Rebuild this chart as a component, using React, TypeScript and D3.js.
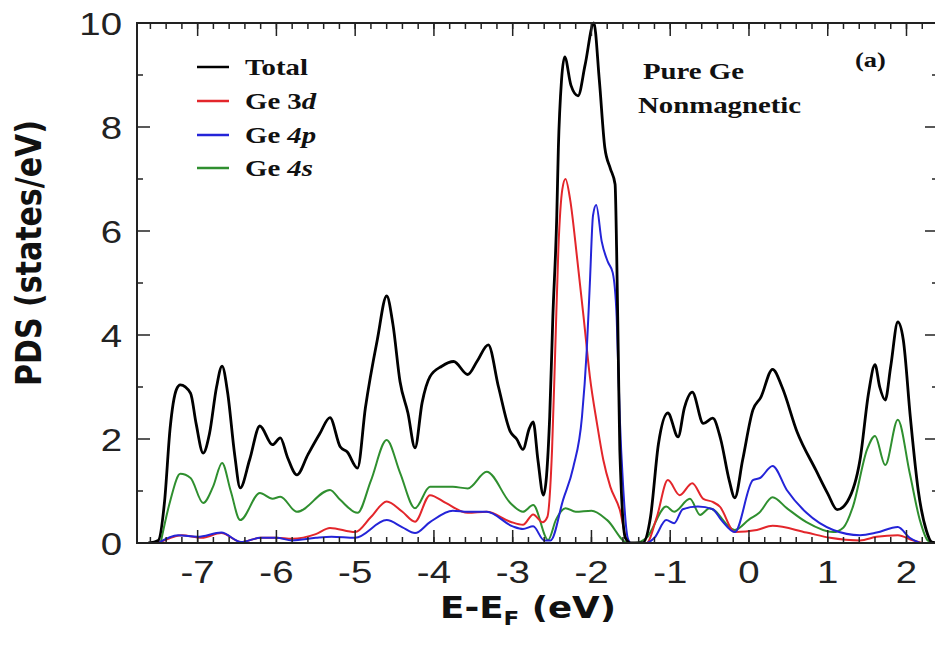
import React from "react";
import * as d3 from "d3";

// ---- Data (energy E-EF in eV, PDOS in states/eV) ----
const totalDos: [number, number][] = [
  [-7.62, 0], [-7.5, 0.05], [-7.42, 0.8], [-7.35, 2.2], [-7.27, 2.95], [-7.22, 3.04], [-7.09, 2.88], [-7.02, 2.3],
  [-6.93, 1.73], [-6.85, 2.1], [-6.76, 3.0], [-6.69, 3.4], [-6.62, 2.9], [-6.53, 1.7], [-6.46, 1.06], [-6.34, 1.6],
  [-6.21, 2.25], [-6.05, 1.89], [-5.95, 2.02], [-5.86, 1.65], [-5.74, 1.31], [-5.6, 1.7], [-5.45, 2.1], [-5.32, 2.41],
  [-5.19, 1.85], [-5.1, 1.75], [-4.97, 1.44], [-4.87, 2.6], [-4.72, 3.9], [-4.6, 4.75], [-4.52, 4.2], [-4.43, 3.1],
  [-4.33, 2.5], [-4.24, 1.83], [-4.15, 2.7], [-4.05, 3.2], [-3.9, 3.4], [-3.75, 3.49], [-3.57, 3.24], [-3.45, 3.5],
  [-3.31, 3.81], [-3.18, 3.0], [-3.03, 2.14], [-2.95, 2.0], [-2.87, 1.8], [-2.79, 2.2], [-2.74, 2.33], [-2.68, 1.6],
  [-2.61, 0.92], [-2.53, 2.43], [-2.49, 4.35], [-2.44, 6.3], [-2.42, 7.6], [-2.38, 8.9], [-2.34, 9.35], [-2.26, 8.8],
  [-2.17, 8.6], [-2.08, 9.2], [-1.97, 10.0], [-1.9, 8.9], [-1.83, 7.6], [-1.76, 7.2], [-1.7, 6.9], [-1.68, 5.6],
  [-1.66, 3.7], [-1.64, 1.8], [-1.57, 0.1], [-1.5, 0], [-1.35, 0], [-1.25, 0.5], [-1.15, 1.9], [-1.03, 2.5],
  [-0.9, 2.04], [-0.82, 2.6], [-0.72, 2.9], [-0.58, 2.3], [-0.46, 2.4], [-0.36, 2.0], [-0.25, 1.2], [-0.18, 0.87],
  [-0.08, 1.6], [0.05, 2.56], [0.15, 2.8], [0.3, 3.34], [0.42, 3.0], [0.61, 2.14], [0.85, 1.4], [1.0, 0.95],
  [1.12, 0.64], [1.25, 0.8], [1.41, 1.6], [1.52, 2.9], [1.6, 3.43], [1.66, 3.0], [1.73, 2.75], [1.8, 3.4],
  [1.89, 4.25], [1.96, 3.9], [2.05, 2.4], [2.15, 1.0], [2.25, 0.25], [2.32, 0.02], [2.4, 0],
];

const ge3d: [number, number][] = [
  [-7.5, 0], [-7.3, 0.12], [-7.2, 0.15], [-6.95, 0.1], [-6.7, 0.19], [-6.45, 0.02], [-6.2, 0.1], [-6.0, 0.1],
  [-5.8, 0.08], [-5.5, 0.17], [-5.32, 0.29], [-5.0, 0.21], [-4.8, 0.5], [-4.6, 0.8], [-4.4, 0.6], [-4.24, 0.41],
  [-4.05, 0.92], [-3.85, 0.77], [-3.57, 0.58], [-3.33, 0.6], [-3.03, 0.41], [-2.87, 0.35], [-2.74, 0.55], [-2.62, 0.4],
  [-2.56, 0.5], [-2.5, 1.8], [-2.46, 3.7], [-2.42, 5.65], [-2.37, 6.8], [-2.33, 7.0], [-2.27, 6.6], [-2.18, 5.45],
  [-2.1, 4.35], [-2.02, 3.2], [-1.93, 2.3], [-1.85, 1.6], [-1.76, 1.08], [-1.64, 0.64], [-1.55, 0.05], [-1.5, 0],
  [-1.3, 0], [-1.17, 0.5], [-1.03, 1.21], [-0.88, 0.92], [-0.72, 1.15], [-0.58, 0.85], [-0.46, 0.79], [-0.37, 0.7],
  [-0.18, 0.21], [0.1, 0.25], [0.3, 0.33], [0.73, 0.2], [1.03, 0.1], [1.41, 0.05], [1.62, 0.12], [1.89, 0.15],
  [2.08, 0.05], [2.2, 0],
];

const ge4p: [number, number][] = [
  [-7.5, 0], [-7.25, 0.15], [-7.0, 0.12], [-6.7, 0.2], [-6.45, 0.02], [-6.2, 0.1], [-6.0, 0.1], [-5.8, 0.05],
  [-5.5, 0.1], [-5.3, 0.12], [-5.0, 0.1], [-4.6, 0.44], [-4.4, 0.3], [-4.24, 0.19], [-4.05, 0.4], [-3.76, 0.62],
  [-3.57, 0.6], [-3.33, 0.6], [-3.0, 0.32], [-2.87, 0.27], [-2.74, 0.32], [-2.6, 0.05], [-2.52, 0.05], [-2.36, 0.83],
  [-2.23, 1.46], [-2.12, 2.43], [-2.06, 3.7], [-2.02, 5.0], [-1.98, 6.3], [-1.94, 6.5], [-1.87, 5.8], [-1.79, 5.4],
  [-1.73, 5.2], [-1.68, 4.35], [-1.64, 2.4], [-1.6, 1.15], [-1.54, 0.1], [-1.5, 0], [-1.3, 0], [-1.2, 0.1],
  [-1.05, 0.44], [-0.95, 0.38], [-0.84, 0.65], [-0.65, 0.7], [-0.46, 0.65], [-0.35, 0.44], [-0.18, 0.21], [0.05, 1.21],
  [0.14, 1.25], [0.3, 1.48], [0.48, 1.02], [0.73, 0.58], [1.07, 0.25], [1.41, 0.15], [1.62, 0.2], [1.89, 0.31],
  [2.04, 0.1], [2.17, 0],
];

const ge4s: [number, number][] = [
  [-7.47, 0], [-7.35, 0.8], [-7.22, 1.33], [-7.09, 1.25], [-6.93, 0.77], [-6.8, 1.1], [-6.69, 1.54], [-6.58, 1.0],
  [-6.46, 0.44], [-6.21, 0.96], [-6.05, 0.85], [-5.95, 0.89], [-5.74, 0.6], [-5.32, 1.02], [-5.19, 0.83], [-4.97, 0.58],
  [-4.8, 1.2], [-4.6, 1.98], [-4.43, 1.35], [-4.24, 0.67], [-4.05, 1.08], [-3.76, 1.08], [-3.57, 1.05], [-3.33, 1.37],
  [-3.03, 0.77], [-2.87, 0.6], [-2.74, 0.73], [-2.55, 0.06], [-2.45, 0.45], [-2.33, 0.67], [-2.2, 0.6], [-2.0, 0.62],
  [-1.8, 0.44], [-1.54, 0], [-1.45, 0], [-1.3, 0.1], [-1.05, 0.7], [-0.95, 0.6], [-0.75, 0.85], [-0.62, 0.54],
  [-0.5, 0.67], [-0.18, 0.25], [0.0, 0.45], [0.13, 0.58], [0.3, 0.88], [0.48, 0.67], [0.73, 0.4], [1.07, 0.21],
  [1.2, 0.3], [1.32, 0.7], [1.5, 1.8], [1.6, 2.06], [1.73, 1.5], [1.89, 2.37], [2.04, 1.35], [2.17, 0.44],
  [2.27, 0.05], [2.35, 0],
];

const seriesNames = ["Total", "Ge 3d", "Ge 4p", "Ge 4s"];
const seriesColors = ["#000000", "#e3262b", "#2424d8", "#2f8f2f"];
const xMajorTicks = [-7, -6, -5, -4, -3, -2, -1, 0, 1, 2];
const yMajorTicks = [0, 2, 4, 6, 8, 10];
const yMinorTicks = [1, 3, 5, 7, 9];
const xMinorTicks = d3.range(-7.6, 2.41, 0.2).map((v) => Math.round(v * 10) / 10);

const W = 935;
const H = 646;
const left = 137;
const right = 938;
const top = 23;
const bottom = 543;
const SX = 1.2; // horizontal text stretch of the original image

export default function App() {
  const x = d3.scaleLinear().domain([-7.77, 2.4]).range([left, right]);
  const y = d3.scaleLinear().domain([0, 10]).range([bottom, top]);
  const line = d3
    .line<[number, number]>()
    .x((d) => x(d[0]))
    .y((d) => y(d[1]))
    .curve(d3.curveMonotoneX);

  const all = [totalDos, ge3d, ge4p, ge4s];
  const drawOrder = [3, 1, 2, 0];
  const legendY = [67, 101, 135, 168];

  const tickFont = "'Liberation Sans', Arial, sans-serif";
  const serif = "'Liberation Serif', 'Times New Roman', serif";
  const boldSans = "'DejaVu Sans', Verdana, sans-serif";

  return (
    <svg width={W} height={H} style={{ position: "absolute", left: 0, top: 0, background: "#fff" }}>
      <rect x={0} y={0} width={W} height={H} fill="#fff" />
      <defs>
        <clipPath id="plotclip">
          <rect x={left} y={top - 2} width={right - left} height={bottom - top + 2} />
        </clipPath>
      </defs>

      {/* curves */}
      <g clipPath="url(#plotclip)" fill="none" strokeLinejoin="round" strokeLinecap="round">
        {drawOrder.map((i) => (
          <path key={i} d={line(all[i]) || ""} stroke={seriesColors[i]} strokeWidth={i === 0 ? 2.8 : 2} />
        ))}
      </g>

      {/* frame */}
      <rect x={left} y={top} width={right - left} height={bottom - top} fill="none" stroke="#222" strokeWidth={2} />

      {/* x ticks (bottom & top, inward) */}
      <g stroke="#222" strokeWidth={1.5}>
        {xMinorTicks.map((t) => (
          <g key={"xm" + t}>
            <line x1={x(t)} x2={x(t)} y1={bottom} y2={bottom - 6} />
            <line x1={x(t)} x2={x(t)} y1={top} y2={top + 6} />
          </g>
        ))}
        {xMajorTicks.map((t) => (
          <g key={"xM" + t}>
            <line x1={x(t)} x2={x(t)} y1={bottom} y2={bottom - 13} />
            <line x1={x(t)} x2={x(t)} y1={top} y2={top + 13} />
          </g>
        ))}
        {yMajorTicks.map((t) => (
          <g key={"yM" + t}>
            <line x1={left} x2={left + 13} y1={y(t)} y2={y(t)} />
            <line x1={right} x2={right - 13} y1={y(t)} y2={y(t)} />
          </g>
        ))}
        {yMinorTicks.map((t) => (
          <g key={"ym" + t}>
            <line x1={left} x2={left + 6} y1={y(t)} y2={y(t)} />
            <line x1={right} x2={right - 6} y1={y(t)} y2={y(t)} />
          </g>
        ))}
      </g>

      {/* tick labels */}
      <g fontFamily={tickFont} fontSize={32} fill="#222">
        {xMajorTicks.map((t) => (
          <text key={"xl" + t} transform={`translate(${x(t)},${583}) scale(${SX},1)`} textAnchor="middle">
            {t < 0 ? "-" + Math.abs(t) : String(t)}
          </text>
        ))}
        {yMajorTicks.map((t) => (
          <text key={"yl" + t} transform={`translate(${122},${y(t) + 11.5}) scale(${SX},1)`} textAnchor="end">
            {t}
          </text>
        ))}
      </g>

      {/* axis titles */}
      <text
        transform={`translate(41,253) scale(${SX},1) rotate(-90)`}
        textAnchor="middle"
        fontFamily={boldSans}
        fontWeight="bold"
        fontSize={30}
        fill="#111"
      >
        PDS (states/eV)
      </text>
      <text
        transform={`translate(528,618) scale(1.15,1)`}
        textAnchor="middle"
        fontFamily={boldSans}
        fontWeight="bold"
        fontSize={31}
        fill="#111"
      >
        E-E<tspan fontSize={20} dy={7}>F</tspan>
        <tspan dy={-7}> (eV)</tspan>
      </text>

      {/* legend */}
      <g fontFamily={serif} fontWeight="bold" fontSize={24} fill="#111">
        {seriesNames.map((name, i) => {
          const parts = name.split(" ");
          const orb = parts[1];
          return (
            <g key={name}>
              <line x1={197} x2={229} y1={legendY[i]} y2={legendY[i]} stroke={seriesColors[i]} strokeWidth={2.5} />
              <text transform={`translate(245,${legendY[i] + 8}) scale(${SX},1)`}>
                {i === 0 ? (
                  name
                ) : i === 1 ? (
                  <>
                    {parts[0] + " "}
                    {orb[0]}
                    <tspan fontStyle="italic">{orb.slice(1)}</tspan>
                  </>
                ) : (
                  <>
                    {parts[0] + " "}
                    <tspan fontStyle="italic">{orb}</tspan>
                  </>
                )}
              </text>
            </g>
          );
        })}
      </g>

      {/* annotations */}
      <g fontFamily={serif} fontWeight="bold" fill="#111">
        <text transform={`translate(643,79) scale(${SX},1)`} fontSize={24}>Pure Ge</text>
        <text transform={`translate(638,113) scale(${SX},1)`} fontSize={24}>Nonmagnetic</text>
        <text transform={`translate(855,67) scale(${SX},1)`} fontSize={22}>(a)</text>
      </g>
    </svg>
  );
}
